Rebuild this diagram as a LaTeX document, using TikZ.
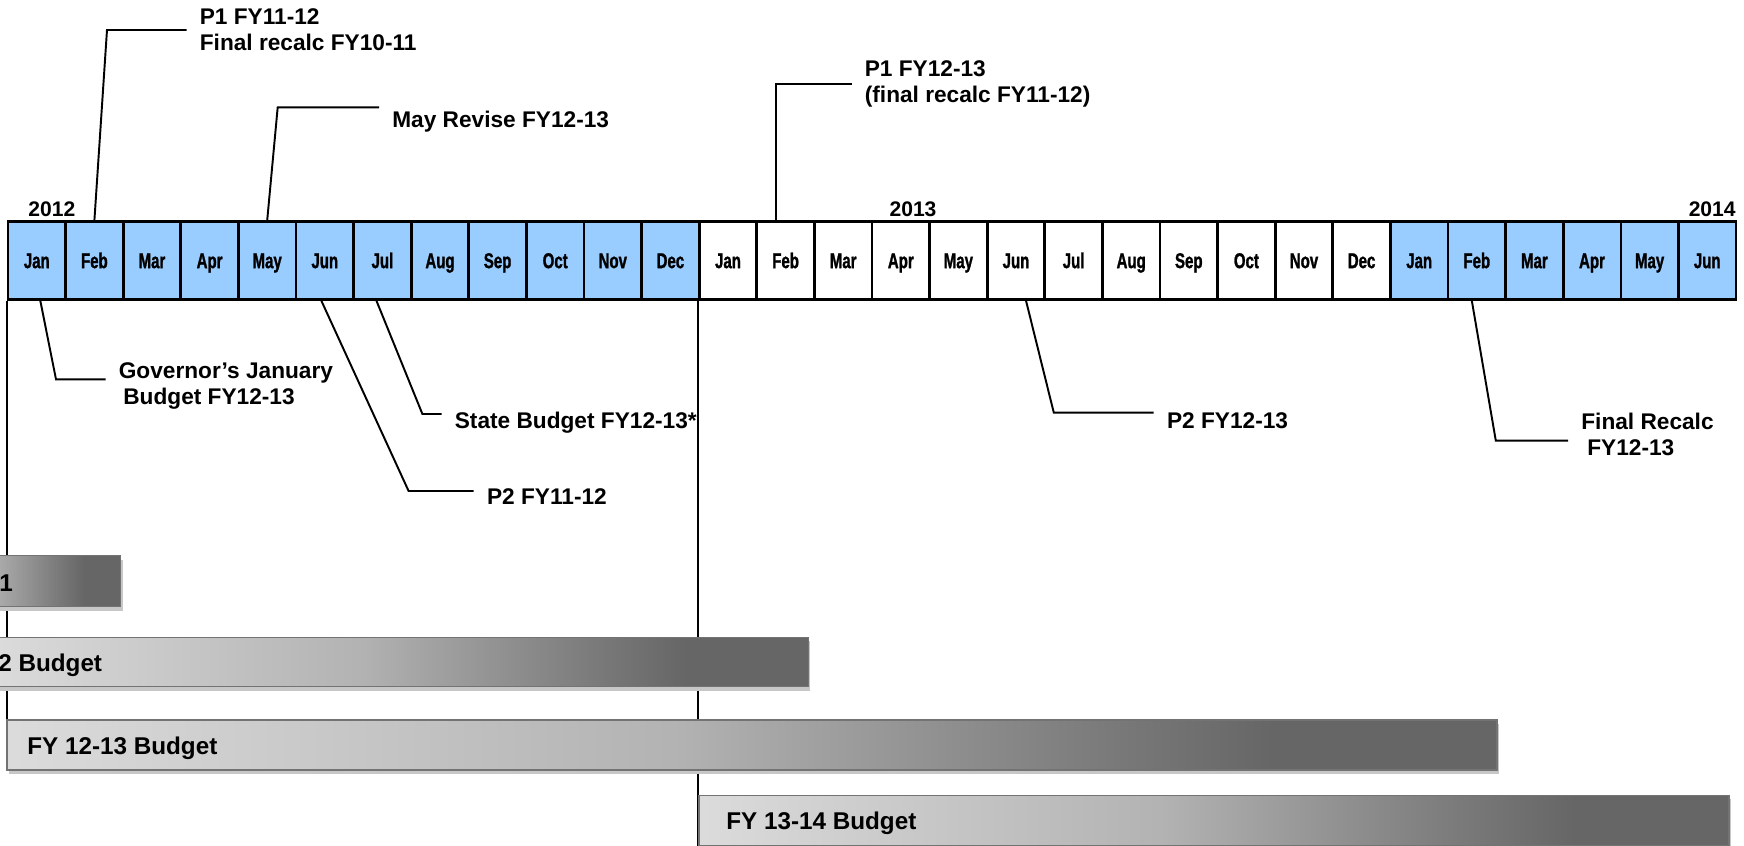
\documentclass[tikz,border=0pt]{standalone}
\usepackage{fontspec}
\setmainfont{Liberation Sans}
\newfontfamily\monthfont[FakeStretch=0.7, FakeBold=1.2]{Liberation Sans}
\usepackage{xcolor}
\usepackage{tikz}
\usetikzlibrary{calc, shadows}
\definecolor{monthblue}{HTML}{99CCFF}
\pgfdeclarehorizontalshading{barshade}{100bp}{color(0bp)=(black!14); color(25bp)=(black!14); color(47.5bp)=(black!30); color(62.5bp)=(black!53); color(67.5bp)=(black!60); color(100bp)=(black!60)}

\begin{document}
\begin{tikzpicture}[
    x=0.2mm, y=-0.2mm,
    month/.style={draw, line width=1.5pt, minimum width=11.52mm, minimum height=15.52mm, inner sep=0pt, text height=8.7pt, text depth=0pt, font=\monthfont\fontsize{12.2}{14}\selectfont\bfseries},
    year/.style={inner sep=0pt, font=\fontsize{12}{14}\selectfont\bfseries},
    note/.style={anchor=west, align=left, inner xsep=2.6mm, inner ysep=0pt, font=\fontsize{12.9}{14.8}\selectfont\bfseries},
    callout/.style={line width=1.1pt},
    guide/.style={line width=1pt},
    budgetbar/.style={draw=black!55, line width=0.8pt, shading=barshade, drop shadow={shadow xshift=0.4mm, shadow yshift=-0.8mm, fill=black!22, opacity=1}},
    barlabel/.style={anchor=west, inner sep=0pt, text depth=0pt, font=\fontsize{13.8}{16}\selectfont\bfseries},
]
    \useasboundingbox (0,0) rectangle (1744,846);
    \clip (0,0) rectangle (1744,846);

    \foreach \mn [count=\i] in {Jan,Feb,Mar,Apr,May,Jun,Jul,Aug,Sep,Oct,Nov,Dec}
        \node[month, fill=monthblue] (m\i) at ({8+57.6*(\i-0.5)},260.5) {\mn};
    \foreach \mn [count=\i from 13] in {Jan,Feb,Mar,Apr,May,Jun,Jul,Aug,Sep,Oct,Nov,Dec}
        \node[month, fill=white] (m\i) at ({8+57.6*(\i-0.5)},260.5) {\mn};
    \foreach \mn [count=\i from 25] in {Jan,Feb,Mar,Apr,May,Jun}
        \node[month, fill=monthblue] (m\i) at ({8+57.6*(\i-0.5)},260.5) {\mn};

    \node[year, anchor=west] (y2012) at (28,209.7) {2012};
    \node[year] (y2013) at (913,209.7) {2013};
    \node[year, anchor=east] (y2014) at (1736,209.7) {2014};

    \draw[guide] (m1.south west) -- ++(0,446);
    \draw[guide] (m13.south west) -- ++(0,560);

    \draw[budgetbar] (-120,555.7) rectangle (120.7,606.7);
    \draw[budgetbar] (-5,637.3) rectangle (808.3,686.7);
    \draw[budgetbar] (7,720) rectangle (1497,770);
    \draw[budgetbar] (699,795.3) rectangle (1729,845.5);
    \node[barlabel] (fy1011) at (-1,583) {1};
    \node[barlabel] (fy1112) at (-2,663) {2 Budget};
    \node[barlabel] (fy1213) at (27,745.7) {FY 12-13 Budget};
    \node[barlabel] (fy1314) at (726,820.8) {FY 13-14 Budget};

    \node[note] (p1a) at (186.5,29.5) {P1 FY11-12\\Final recalc FY10-11};
    \node[note] (mayrev) at (379,122) {May Revise FY12-13};
    \node[note] (p1b) at (851.5,84) {P1 FY12-13\\(final recalc FY11-12)};
    \node[note] (govjan) at (105.5,386) {Governor’s January\\\hspace*{0.9mm}Budget FY12-13};
    \node[note] (p2a) at (473.7,497) {P2 FY11-12};
    \node[note] (statebud) at (441.5,423) {State Budget FY12-13*};
    \node[note] (p2b) at (1153.7,421) {P2 FY12-13};
    \node[note] (finrecalc) at (1568,434) {Final Recalc\\\hspace*{1.2mm}FY12-13};

    \coordinate (kp1a) at (107,30);
    \coordinate (kmay) at (277.7,107.3);
    \coordinate (kgov) at (56,379.3);
    \coordinate (kp2a) at (408.6,491);
    \coordinate (kstate) at (422.4,414);
    \coordinate (kp2b) at (1053.8,412.7);
    \coordinate (kfin) at (1495.8,440.7);

    \draw[callout] (m2.north) -- (kp1a) -- (kp1a -| p1a.west);
    \draw[callout] (m5.north) -- (kmay) -- (kmay -| mayrev.west);
    \draw[callout] ([xshift=-1.9mm]m14.north) |- (p1b.west);
    \draw[callout] ([xshift=0.7mm]m1.south) -- (kgov) -- (kgov -| govjan.west);
    \draw[callout] ([xshift=-0.7mm]m6.south) -- (kp2a) -- (kp2a -| p2a.west);
    \draw[callout] ([xshift=-1.2mm]m7.south) -- (kstate) -- (kstate -| statebud.west);
    \draw[callout] ([xshift=2mm]m18.south) -- (kp2b) -- (kp2b -| p2b.west);
    \draw[callout] ([xshift=-1mm]m26.south) -- (kfin) -- (kfin -| finrecalc.west);
\end{tikzpicture}
\end{document}
